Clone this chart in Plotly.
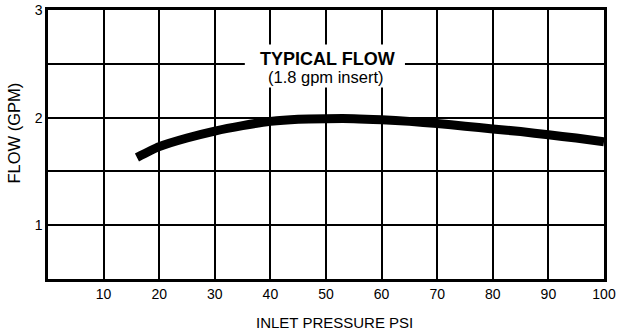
import plotly.graph_objects as go

# Flow curve: inlet pressure (psi) vs flow (gpm)
pressure_psi = [16, 20, 25, 30, 35, 40, 45, 50, 55, 60, 65, 70, 75, 80, 85, 90, 95, 100]
flow_gpm = [1.63, 1.73, 1.81, 1.875, 1.925, 1.965, 1.985, 1.99, 1.99, 1.98, 1.965, 1.945, 1.92, 1.895, 1.87, 1.84, 1.81, 1.775]

x_ticks = [10, 20, 30, 40, 50, 60, 70, 80, 90, 100]
y_grid = [0.5, 1, 1.5, 2, 2.5, 3]
y_labels = ["", "1", "", "2", "", "3"]

font_family = "Liberation Sans, Arial, sans-serif"

fig = go.Figure()
fig.add_trace(go.Scatter(
    x=pressure_psi, y=flow_gpm, mode="lines",
    line=dict(color="black", width=9, shape="spline", smoothing=0.6),
    hoverinfo="skip", showlegend=False,
))

# White label panel that interrupts the grid behind the caption
fig.add_shape(
    type="rect", xref="x", yref="y", x0=35.4, x1=64.2, y0=2.28, y1=2.68,
    fillcolor="white", line=dict(width=0), layer="above",
)
fig.add_annotation(
    x=50.2, y=2.548, xref="x", yref="y", text="<b>TYPICAL FLOW</b>",
    showarrow=False, font=dict(family=font_family, size=18, color="black"),
)
fig.add_annotation(
    x=50, y=2.373, xref="x", yref="y", text="(1.8 gpm insert)",
    showarrow=False, font=dict(family=font_family, size=16.5, color="black"),
)

# Axis titles
fig.add_annotation(
    x=(334 - 48) / 556, y=-(322 - 279) / 269, xref="paper", yref="paper",
    xanchor="center", yanchor="middle",
    text="INLET PRESSURE PSI", showarrow=False,
    font=dict(family=font_family, size=15, color="black"),
)
fig.add_annotation(
    x=(13 - 48) / 556, y=(279 - 133.5) / 269, xref="paper", yref="paper",
    xanchor="center", yanchor="middle",
    text="FLOW (GPM)", textangle=-90, showarrow=False,
    font=dict(family=font_family, size=16.5, color="black"),
)

fig.update_layout(
    width=618, height=331,
    margin=dict(l=48, r=14, t=10, b=52),
    paper_bgcolor="white", plot_bgcolor="white",
    font=dict(family=font_family, color="black"),
    xaxis=dict(
        range=[0, 100], tickvals=x_ticks, ticks="", automargin=False,
        showgrid=True, gridcolor="black", gridwidth=2,
        showline=True, linecolor="black", linewidth=2.5, mirror=True,
        zeroline=False, tickfont=dict(size=14, color="black"),
    ),
    yaxis=dict(
        range=[0.5, 3], tickvals=y_grid, ticktext=y_labels, ticks="", automargin=False,
        showgrid=True, gridcolor="black", gridwidth=2,
        showline=True, linecolor="black", linewidth=2.5, mirror=True,
        zeroline=False, tickfont=dict(size=14, color="black"),
        ticklabelstandoff=0,
    ),
)

fig.write_html("out.html")
